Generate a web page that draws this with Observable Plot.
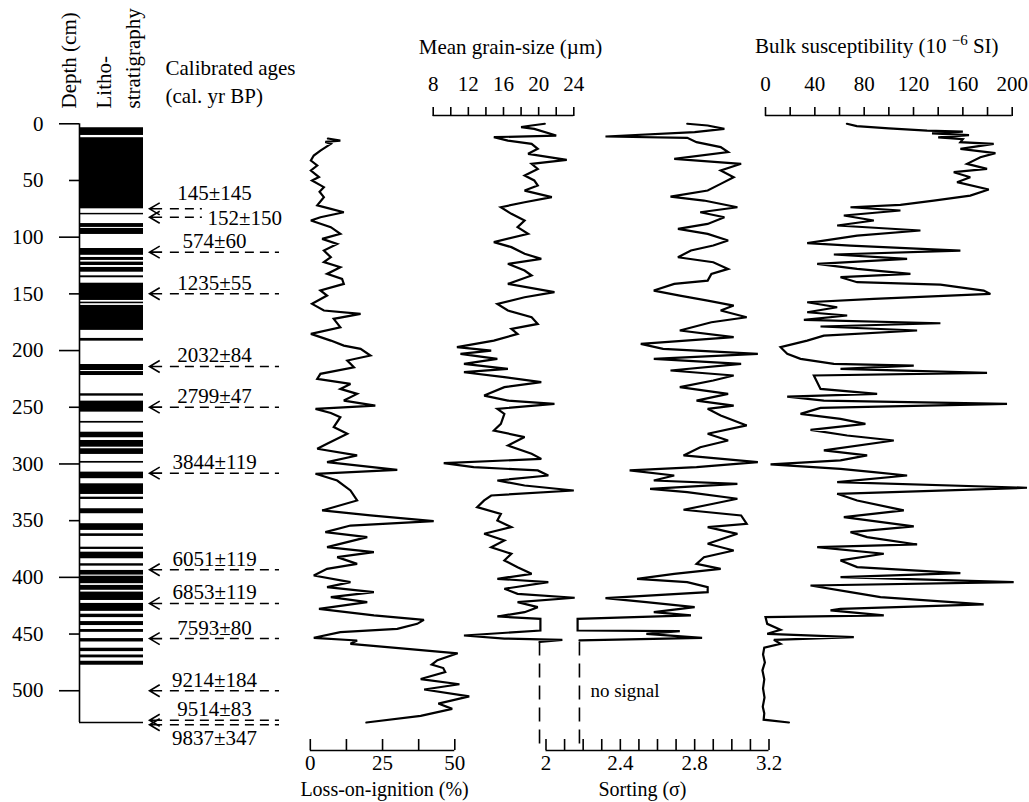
<!DOCTYPE html>
<html><head><meta charset="utf-8">
<script src="https://cdn.jsdelivr.net/npm/d3@7"></script>
<script src="https://cdn.jsdelivr.net/npm/@observablehq/plot@0.6"></script>
<style>
html,body{margin:0;padding:0;background:#fff;}
#chart{position:relative;width:1029px;height:802px;overflow:hidden;background:#fff;}
#chart svg{position:absolute;left:0;top:0;background:transparent;max-width:none;overflow:visible;}
</style></head>
<body><div id="chart"></div>
<script>
// ---------------- DATA ----------------
const depthTicksMajor = [0, 100, 200, 300, 400, 500];
const depthTicksMinor = [50, 150, 250, 350, 450];
const coreBottom = 528;

// lithostratigraphy: dark laminated intervals [top, bottom] (cm)
const lithoBands = [[3.5,10.3],[12.3,75],[79,80.3],[88,91.4],[92.3,97.6],[110,116],[117.9,120.5],[122,125],[126.7,130.9],[134.1,135.8],[140.6,155.8],[157.3,158.7],[160.2,182.2],[189.3,191.7],[212.3,217.6],[218.5,222],[238.1,240.2],[244.6,254.3],[262.5,264],[272,276.9],[279.3,285.2],[286.6,291.6],[297.8,299.3],[307.2,313],[317.5,326.9],[329.3,331.3],[339.5,343.9],[352.7,358.6],[361.6,363.9],[373.4,375.4],[377.8,383.6],[388,390.1],[393.9,398],[399,405.6],[407.1,411.4],[413,420.4],[423,430],[432.5,435.5],[439,442.5],[446,448.5],[454,457],[462.5,465.5],[468.5,471],[474,477.5]];

const ageLabels = ["145±145","152±150","574±60","1235±55","2032±84","2799±47","3844±119","6051±119","6853±119","7593±80","9214±184","9514±83","9837±347"];
const ageDepths = [75, 82.4, 113.2, 149.9, 214, 249.9, 308.1, 393.3, 423, 454, 500, 526, 530];

const loiTicks = [0, 12.5, 25, 37.5, 50];
const loiTickLabels = [0, 25, 50];
const grainTicks = [8, 10, 12, 14, 16, 18, 20, 22, 24];
const sortTicks = [2.0, 2.1, 2.2, 2.3, 2.4, 2.5, 2.6, 2.7, 2.8, 2.9, 3.0, 3.1, 3.2];
const sortTickLabels = [2, 2.4, 2.8, 3.2];
const susTicks = [0, 20, 40, 60, 80, 100, 120, 140, 160, 180, 200];

// [depth (cm), value]
const lossOnIgnition = [[13,6.1],[14.8,10.4],[16,5.2],[17.7,7.1],[23.6,3.5],[28,1.2],[32.4,0.2],[36.8,2.4],[41.2,0.2],[47,3.0],[50,0.6],[55.9,4.7],[60,3.2],[64.7,4.7],[72,2.4],[75,7.1],[78,11.6],[82.4,3.5],[85.3,0.2],[91.2,7.1],[97,10.4],[101.5,4.1],[105.9,9.3],[111.8,4.7],[117.7,7.1],[122,4.7],[126.5,10.4],[132.4,5.8],[136.8,11.0],[141.2,11.6],[147,3.5],[151.5,5.8],[158.8,0.6],[164.7,4.7],[167.6,17.4],[172,8.1],[179.4,10.4],[185.3,0.2],[191.2,7.1],[195.6,11.6],[198.5,17.4],[204.4,20.8],[208.8,12.8],[214.7,15.1],[220.5,3.5],[225,2.4],[229.4,13.9],[233.8,10.4],[238.2,16.2],[244.1,11.6],[248.5,22.5],[251.4,1.8],[255,7.1],[258.7,10.4],[267.5,8.1],[273.4,12.8],[282.2,5.8],[286.6,2.4],[292.5,16.2],[298.4,5.8],[305.2,30.1],[308.7,1.8],[314.6,9.3],[323.4,13.9],[332.2,16.2],[341,4.1],[345.4,20.8],[350.4,42.7],[354.3,13.9],[360.1,5.2],[364.5,19.7],[373.4,5.8],[377.8,22.0],[382.2,9.3],[388.1,16.2],[392.5,5.8],[398.4,1.2],[404.2,13.9],[408.6,5.8],[413,22.0],[417.5,7.1],[421.9,19.7],[427.8,3.0],[433.6,22.0],[437.5,39.3],[441,37.0],[445.4,30.1],[448.3,10.4],[453.3,1.2],[455.7,16.2],[458.6,13.9],[463,33.5],[467,51],[473,44],[477,42],[480,46],[483.5,46.7],[489.7,38.2],[494.3,51.6],[498.9,39.4],[505,55],[511.3,44.3],[516,49.1],[522.1,38.2],[528,19.4]];

const meanGrainSize = [[0,20.7],[1.5,19.2],[3,18],[4.5,19.5],[10.4,22],[11.8,14.9],[14.8,16.5],[17.7,19.2],[22.1,19.9],[26.5,18.8],[31.8,23.2],[35.3,19.2],[39.8,19.9],[45.6,18.4],[50,19.5],[54.5,19.9],[58.9,18.4],[64.7,21.5],[69.2,18.4],[73.6,15.7],[79.4,16.9],[85.3,18.4],[91.2,17.6],[97,18.8],[104.4,14.9],[108.8,16.9],[114.7,18.4],[119.1,20.3],[123.5,16.5],[129.4,18.4],[133.8,19.2],[141.2,16.5],[148.5,21.8],[153,18.4],[158.8,15.3],[164.7,16.5],[170.6,19.2],[176.5,19.9],[180.9,16.9],[185.3,17.6],[191.2,14.9],[197,10.7],[200,14.6],[202.9,11.1],[207.3,15.3],[211.7,11.5],[216.2,16.5],[219.1,11.5],[223.5,16.1],[227.9,20.3],[232.3,16.1],[239.7,13.8],[244.1,16.5],[247,21.8],[251.4,15.3],[255.8,16.1],[264.6,15.7],[270.5,14.9],[276.3,18.4],[283.7,16.5],[291,19.2],[295.5,20.3],[299.3,9.2],[302.8,12.6],[305.7,19.9],[310.2,21.1],[314.6,15.3],[319,18.4],[323.4,24],[327.8,14.6],[332.2,13.8],[338.1,13],[344,15.7],[349.8,15.3],[355.7,16.9],[361.6,13.8],[367.5,16.1],[373.4,14.6],[379.2,16.9],[385.1,16.1],[391,17.6],[396.9,19.2],[401.3,15.3],[404.2,21.1],[410.1,16.1],[414.5,17.6],[418,24.1],[421.9,17.6],[426.3,19.9],[430.7,18.4],[434.5,15.3],[436.6,20.2],[446.9,20.2],[451.3,11.5],[454,16.1],[455.1,22.7],[457,20.1]];

const sorting = [[0,2.76],[1.5,2.87],[4.5,2.96],[7.4,2.80],[11.2,2.32],[12.4,2.76],[16.2,2.81],[20.6,2.94],[25,2.98],[31,2.69],[35.3,3.05],[41.2,2.94],[47.1,3.01],[53,2.94],[58.9,2.87],[64.2,2.67],[67.7,2.85],[73.6,3.03],[78,2.83],[82.4,2.96],[88.3,2.87],[92.7,2.71],[97.1,2.87],[102.9,2.98],[107.4,2.90],[111.8,2.78],[117.7,2.71],[122.1,2.90],[128,2.98],[132.4,2.89],[138.3,2.87],[141.2,2.69],[147.1,2.58],[151.5,2.72],[155.9,2.87],[160.3,3.01],[164.7,2.94],[170.6,3.08],[175,2.89],[182.3,2.72],[188.2,3.01],[194.1,2.51],[198.5,2.63],[202.9,3.14],[207.3,2.58],[211.7,3.05],[217.6,2.67],[222,3.01],[226.4,2.90],[232.3,2.72],[238.2,2.98],[244.1,2.81],[248.5,3.01],[251.4,2.87],[257.2,2.94],[266,3.08],[273.4,2.87],[279.3,2.98],[285.2,2.83],[292.5,2.74],[298.4,3.14],[302.8,2.81],[305.7,2.45],[310.2,2.69],[314.6,2.58],[317.5,3.03],[321.9,2.56],[324.9,2.76],[330.7,3.03],[335.1,2.90],[340.4,2.74],[345.4,3.05],[352.8,3.08],[355.7,2.87],[361.6,3.03],[370.4,2.87],[376.3,3.01],[382.2,2.85],[388.1,2.81],[392.5,2.94],[396.9,2.69],[401.3,2.49],[404.2,2.76],[408.6,2.87],[413,2.87],[418.3,2.32],[421.9,2.54],[426.3,2.80],[430.7,2.58],[433.6,2.78],[436.6,2.17],[446.9,2.17],[447.5,2.72],[449.8,2.54],[453.3,2.84],[455.5,2.18]];

const susceptibility = [[0,66],[2,74],[4,100],[6,131],[7,160],[8.5,135],[10,165],[12,140],[13.5,160],[16.2,158],[17.7,185],[22.1,158],[25.9,186.4],[29.5,174.2],[35.3,163.4],[39.8,179.6],[42.7,152.6],[47.1,166],[51.5,155.3],[58,181],[63.3,166],[67.7,136.4],[71.5,109.4],[73.6,68.9],[76.5,109.4],[80.9,63.5],[85.3,87.8],[89.7,58.1],[94.1,125.6],[98.6,74.3],[105.3,33.8],[107.4,68.9],[111.8,158],[115.3,55.4],[119.1,114.8],[123.5,41.9],[127.9,74.3],[132.4,117.5],[135.3,60.8],[139.7,74.3],[141.8,141.8],[147.1,176.9],[150,182.3],[154.4,87.8],[157.4,33.8],[161.8,58.1],[166.2,33.8],[169.1,66.2],[172.9,31.1],[175.9,141.8],[178.8,44.6],[182.3,122.9],[186.8,47.3],[191.2,33.8],[197,12.2],[202.9,17.6],[207.3,28.4],[211.7,55.4],[213.2,120.2],[216.2,60.8],[219.7,179.6],[222,39.2],[227.9,41.9],[233.8,44.6],[238.2,90.5],[240.6,17.6],[244.1,47.3],[247,195.8],[250.5,44.6],[255.8,28.4],[260.2,60.8],[264.6,81],[269.9,36.5],[274.9,66.2],[279.3,104],[288.1,47.3],[292.5,82.4],[296.9,60.8],[300.4,4.1],[304.3,60.8],[307.2,87.8],[310.2,114.8],[316,58.1],[321,212],[326.3,58.1],[332.2,74.3],[341,112.1],[346.9,63.5],[355.1,120.2],[360.1,68.9],[364.5,82.4],[371,122.9],[373.4,41.9],[379.2,95.9],[385.1,60.8],[391,74.3],[396.3,158],[399.8,60.8],[404.2,201.2],[407.2,36.5],[413,68.9],[417.5,93.2],[423.9,176.9],[427.8,60.8],[429.2,52.7],[433.6,95.9],[435.1,0],[441,1.4],[446.3,12.2],[449.8,1.4],[452.7,71.6],[455.1,6.8],[458.6,12.2],[462,-1],[468,-2],[475,-0.5],[482,-2.5],[490,-1],[498,-2],[506,-0.8],[514,-2.2],[520,-1],[525.5,-1.5],[528,19]];

const grainNoSignal = 20.1;
const sortingNoSignal = 2.18;
const noSignalFrom = 457;
const noSignalTextDepth = 500;

// ---------------- LAYOUT ----------------
const W = 1029, H = 802, MT = 115, MB = 52, FH = H - MT - MB;
const depthDomain = [-7.3, 552.7];
const panelRange = {
  litho: [79, 143],
  loi: [309.8, 454.3],
  grain: [432.7, 573.3],
  sort: [545.5, 768.5],
  sus: [765, 1011.7]
};
const AGE = {arrowTip: 1.094, dashStart: 1.42, dashEnd: 3.125, shortDashEnd: 1.92, labelX: 2.11, inlineX: 2.0};
const inlineLabels = new Set(["152±150"]);
const belowLabels = new Set(["9837±347"]);
const shortDash = new Set(["145±145", "152±150"]);
const labelLift = {"145±145": -9};
const FONT = "'Liberation Serif', 'Times New Roman', Times, serif";

// open arrow head "<" with a short shaft, drawn by Plot.vector
const chevron = {
  draw(ctx, l) {
    ctx.moveTo(l * 0.85, -l * 0.5);
    ctx.lineTo(0, 0);
    ctx.lineTo(l * 0.85, l * 0.5);
    ctx.moveTo(0, 0);
    ctx.lineTo(l * 1.05, 0);
  }
};

function makePanel(xDomain, range, marks, withYAxis = false) {
  const [x0, x1] = range;
  return Plot.plot({
    width: W, height: H,
    marginLeft: x0, marginRight: W - x1, marginTop: MT, marginBottom: MB,
    x: withYAxis ? {domain: xDomain, axis: null} : {domain: xDomain},
    y: withYAxis ? {domain: depthDomain, range: [MT, H - MB]} : {domain: depthDomain, range: [MT, H - MB], axis: null},
    style: {background: "transparent", fontFamily: FONT, fontSize: "21px", color: "black", overflow: "visible"},
    marks
  });
}

const chart = document.getElementById("chart");
const ages = ageLabels.map((label, i) => ({label, depth: ageDepths[i]}));
const lineOpts = {x: d => d[1], y: d => d[0], stroke: "black", strokeWidth: 2.2, strokeLinejoin: "miter", strokeMiterlimit: 3};
const aboveAges = ages.filter(d => !inlineLabels.has(d.label) && !belowLabels.has(d.label));

// Lithostratigraphy + depth + ages
chart.appendChild(makePanel([0, 1], panelRange.litho, [
  Plot.rect(lithoBands, {x1: 0, x2: 1, y1: d => d[0], y2: d => d[1], fill: "black"}),
  Plot.ruleX([0], {y1: 0, y2: coreBottom, strokeWidth: 1.6}),
  Plot.ruleY([coreBottom], {x1: 0, x2: 1, strokeWidth: 1.6}),
  Plot.axisY({anchor: "left", ticks: depthTicksMajor, tickSize: 20, tickPadding: 16, label: null, strokeWidth: 1.6}),
  Plot.axisY({anchor: "left", ticks: depthTicksMinor, tickSize: 10, tickPadding: 26, label: null, strokeWidth: 1.6}),
  Plot.ruleY(ages, {y: "depth", x1: AGE.dashStart, x2: d => shortDash.has(d.label) ? AGE.shortDashEnd : AGE.dashEnd, strokeDasharray: "9,6", strokeWidth: 1.5}),
  Plot.vector(ages, {x: AGE.arrowTip, y: "depth", length: 12, rotate: 0, anchor: "start", shape: chevron, strokeWidth: 1.6, strokeLinecap: "butt", strokeLinejoin: "miter"}),
  Plot.text(aboveAges.filter(d => !(d.label in labelLift)), {x: AGE.labelX, y: "depth", text: "label", lineAnchor: "bottom", dy: -4}),
  Plot.text(aboveAges.filter(d => d.label in labelLift), {x: AGE.labelX, y: "depth", text: "label", lineAnchor: "bottom", dy: labelLift["145±145"]}),
  Plot.text(ages.filter(d => inlineLabels.has(d.label)), {x: AGE.inlineX, y: "depth", text: "label", textAnchor: "start", lineAnchor: "middle", dy: 1.5}),
  Plot.text(ages.filter(d => belowLabels.has(d.label)), {x: AGE.labelX, y: "depth", text: "label", lineAnchor: "top", dy: 5}),
  Plot.text(["Depth (cm)"], {text: d => d, frameAnchor: "top-left", rotate: -90, textAnchor: "start", lineAnchor: "bottom", dx: -4, dy: -7}),
  Plot.text(["Litho-"], {text: d => d, frameAnchor: "top-left", rotate: -90, textAnchor: "start", lineAnchor: "bottom", dx: 31, dy: -7}),
  Plot.text(["stratigraphy"], {text: d => d, frameAnchor: "top-left", rotate: -90, textAnchor: "start", lineAnchor: "bottom", dx: 60, dy: -7}),
  Plot.text(["Calibrated ages\n(cal. yr BP)"], {text: d => d, frameAnchor: "top-left", textAnchor: "start", lineAnchor: "bottom", lineHeight: 1.29, dx: 86, dy: -13})
], true));

// Loss-on-ignition
chart.appendChild(makePanel([0, 50], panelRange.loi, [
  Plot.line(lossOnIgnition, lineOpts),
  Plot.ruleY([depthDomain[1]], {strokeWidth: 1.6}),
  Plot.tickX(loiTicks, {x: d => d, insetTop: FH - 11, strokeWidth: 1.6}),
  Plot.axisX({anchor: "bottom", ticks: loiTickLabels, tickSize: 0, tickPadding: 5, label: null}),
  Plot.text(["Loss-on-ignition (%)"], {text: d => d, frameAnchor: "bottom", lineAnchor: "bottom", dx: 2, dy: 45, fontSize: 20})
]));

// Mean grain size
chart.appendChild(makePanel([8, 24], panelRange.grain, [
  Plot.line(meanGrainSize, lineOpts),
  Plot.ruleX([grainNoSignal], {y1: noSignalFrom, y2: depthDomain[1], strokeDasharray: "14,8", strokeWidth: 1.6}),
  Plot.ruleY([depthDomain[0]], {strokeWidth: 1.6}),
  Plot.axisX({anchor: "top", ticks: grainTicks, tickSize: 9, tickPadding: 16, label: null, strokeWidth: 1.6, tickFormat: d => d % 4 === 0 ? String(d) : ""}),
  Plot.text(["Mean grain-size (µm)"], {text: d => d, frameAnchor: "top", lineAnchor: "bottom", dx: 7, dy: -62})
]));

// Sorting
chart.appendChild(makePanel([2, 3.2], panelRange.sort, [
  Plot.line(sorting, lineOpts),
  Plot.ruleX([sortingNoSignal], {y1: noSignalFrom, y2: depthDomain[1], strokeDasharray: "14,8", strokeWidth: 1.6}),
  Plot.text(["no signal"], {text: d => d, x: sortingNoSignal, y: noSignalTextDepth, dx: 11, textAnchor: "start", lineAnchor: "middle", fontSize: 19}),
  Plot.ruleY([depthDomain[1]], {strokeWidth: 1.6}),
  Plot.tickX(sortTicks, {x: d => d, insetTop: FH - 11, strokeWidth: 1.6}),
  Plot.axisX({anchor: "bottom", ticks: sortTickLabels, tickSize: 0, tickPadding: 5, label: null, tickFormat: d => String(d)}),
  Plot.text(["Sorting (σ)"], {text: d => d, frameAnchor: "bottom", lineAnchor: "bottom", dx: -15, dy: 45, fontSize: 20})
]));

// Bulk susceptibility
const susSvg = makePanel([0, 200], panelRange.sus, [
  Plot.line(susceptibility, lineOpts),
  Plot.ruleY([depthDomain[0]], {strokeWidth: 1.6}),
  Plot.axisX({anchor: "top", ticks: susTicks, tickSize: 9, tickPadding: 16, label: null, strokeWidth: 1.6, tickFormat: d => d % 40 === 0 ? String(d) : ""}),
  Plot.text(["Bulk susceptibility (10 −6 SI)"], {text: d => d, frameAnchor: "top", lineAnchor: "bottom", dx: -12, dy: -63})
]);
chart.appendChild(susSvg);

// superscript exponent in the susceptibility title
for (const t of susSvg.querySelectorAll("text")) {
  if (t.textContent === "Bulk susceptibility (10 −6 SI)") {
    const NS = "http://www.w3.org/2000/svg";
    t.textContent = "Bulk susceptibility (10 ";
    const sup = document.createElementNS(NS, "tspan");
    sup.setAttribute("dy", "-8"); sup.setAttribute("font-size", "15");
    sup.textContent = "−6";
    const rest = document.createElementNS(NS, "tspan");
    rest.setAttribute("dy", "8");
    rest.textContent = " SI)";
    t.appendChild(sup); t.appendChild(rest);
  }
}
</script>
</body></html>
